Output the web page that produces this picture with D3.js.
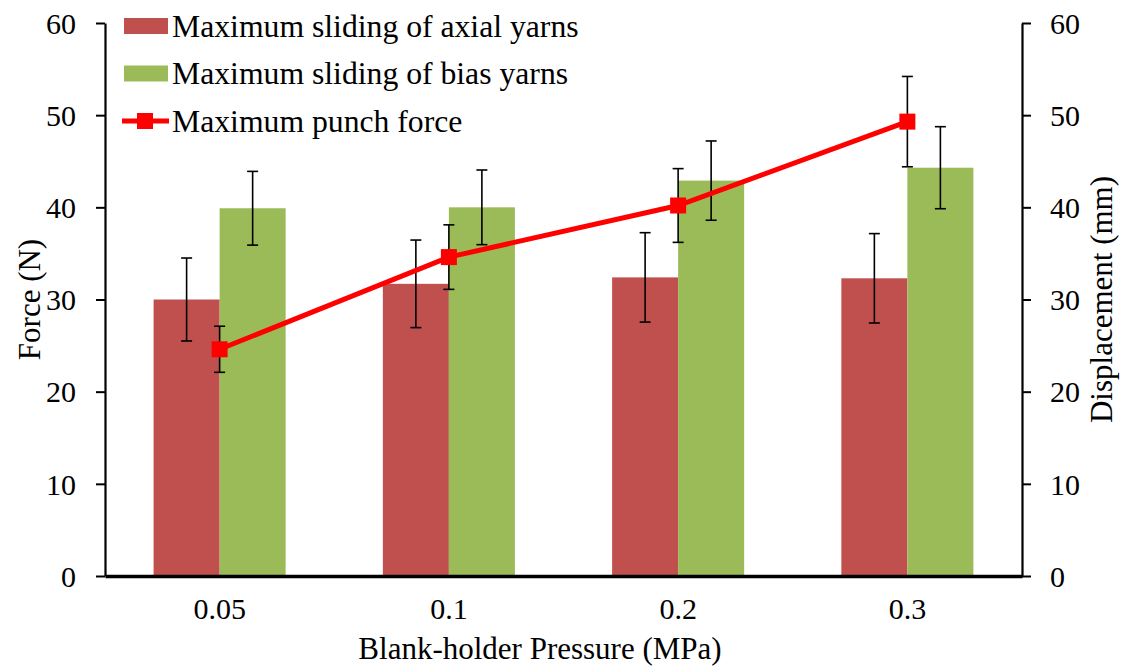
<!DOCTYPE html>
<html>
<head>
<meta charset="utf-8">
<script src="https://d3js.org/d3.v7.min.js"></script>
<style>
  body { margin: 0; background: #fff; }
  text { font-family: "Liberation Serif", "Times New Roman", serif; fill: #000; }
</style>
</head>
<body>
<script>
var categories = ["0.05", "0.1", "0.2", "0.3"];
var axialSliding = [30.0, 31.7, 32.4, 32.3];
var axialErr = [4.5, 4.75, 4.85, 4.85];
var biasSliding = [39.9, 40.0, 42.9, 44.3];
var biasErr = [4.0, 4.05, 4.3, 4.45];
var punchForce = [24.6, 34.6, 40.2, 49.3];
var punchErr = [2.5, 3.5, 4.0, 4.9];
var yTicks = [0, 10, 20, 30, 40, 50, 60];

var width = 1122, height = 666;
var margin = { left: 105, right: 100, top: 23, bottom: 90 };

var svg = d3.select("body").append("svg")
    .attr("width", width)
    .attr("height", height);

var x0 = d3.scaleBand()
    .domain(categories)
    .range([margin.left, width - margin.right])
    .paddingInner(0.424)
    .paddingOuter(0.212);

var x1 = d3.scaleBand()
    .domain(["axial", "bias"])
    .range([0, x0.bandwidth()]);

var y = d3.scaleLinear()
    .domain([0, 60])
    .range([height - margin.bottom, margin.top]);

var yRight = d3.scaleLinear()
    .domain([0, 60])
    .range([height - margin.bottom, margin.top]);

var series = [
    { key: "axial", values: axialSliding, err: axialErr, color: "#c0504d" },
    { key: "bias", values: biasSliding, err: biasErr, color: "#9bbb59" }
];

// bars
series.forEach(function(s) {
    svg.append("g").selectAll("rect")
        .data(s.values)
        .enter().append("rect")
        .attr("x", function(d, i) { return x0(categories[i]) + x1(s.key); })
        .attr("y", function(d) { return y(d); })
        .attr("width", x1.bandwidth())
        .attr("height", function(d) { return y(0) - y(d); })
        .attr("fill", s.color);
});

function errorBars(cx, vals, errs, scale) {
    var g = svg.append("g").attr("stroke", "#000").attr("stroke-width", 1.6);
    vals.forEach(function(v, i) {
        var xc = cx(i), top = scale(v + errs[i]), bot = scale(v - errs[i]);
        g.append("line").attr("x1", xc).attr("x2", xc).attr("y1", top).attr("y2", bot);
        g.append("line").attr("x1", xc - 5.5).attr("x2", xc + 5.5).attr("y1", top).attr("y2", top);
        g.append("line").attr("x1", xc - 5.5).attr("x2", xc + 5.5).attr("y1", bot).attr("y2", bot);
    });
}

series.forEach(function(s) {
    errorBars(function(i) { return x0(categories[i]) + x1(s.key) + x1.bandwidth() / 2; },
        s.values, s.err, y);
});

// punch force line
var lineX = function(i) { return x0(categories[i]) + x0.bandwidth() / 2; };
var line = d3.line()
    .x(function(d, i) { return lineX(i); })
    .y(function(d) { return yRight(d); });

svg.append("path")
    .datum(punchForce)
    .attr("d", line)
    .attr("fill", "none")
    .attr("stroke", "#ff0000")
    .attr("stroke-width", 5);

errorBars(lineX, punchForce, punchErr, yRight);

svg.append("g").selectAll("rect")
    .data(punchForce)
    .enter().append("rect")
    .attr("x", function(d, i) { return lineX(i) - 8; })
    .attr("y", function(d) { return yRight(d) - 8; })
    .attr("width", 16)
    .attr("height", 16)
    .attr("fill", "#ff0000");

// axes
var leftAxis = svg.append("g")
    .attr("transform", "translate(" + margin.left + ",0)")
    .call(d3.axisLeft(y).tickValues(yTicks).tickSize(9).tickPadding(20).tickSizeOuter(0));

var rightAxis = svg.append("g")
    .attr("transform", "translate(" + (width - margin.right) + ",0)")
    .call(d3.axisRight(yRight).tickValues(yTicks).tickSize(9).tickPadding(19).tickSizeOuter(0));

[leftAxis, rightAxis].forEach(function(a) {
    a.select(".domain").attr("stroke", "#000").attr("stroke-width", 2.2);
    a.selectAll(".tick line").attr("stroke", "#000").attr("stroke-width", 2);
    a.selectAll(".tick text")
        .style("font-family", "'Liberation Serif', serif")
        .style("font-size", "30px")
        .attr("dy", "0.34em");
});

var bottomAxis = svg.append("g")
    .attr("transform", "translate(0," + y(0) + ")")
    .call(d3.axisBottom(x0).tickSize(0).tickPadding(22));
bottomAxis.select(".domain").attr("stroke", "#000").attr("stroke-width", 3.5);
bottomAxis.selectAll(".tick text")
    .style("font-family", "'Liberation Serif', serif")
    .style("font-size", "30px");

// axis titles
svg.append("text")
    .attr("transform", "translate(40," + ((y(0) + y(60)) / 2) + ") rotate(-90)")
    .attr("text-anchor", "middle")
    .style("font-size", "31px")
    .text("Force (N)");

svg.append("text")
    .attr("transform", "translate(1112," + ((y(0) + y(60)) / 2) + ") rotate(-90)")
    .attr("text-anchor", "middle")
    .style("font-size", "31px")
    .text("Displacement (mm)");

svg.append("text")
    .attr("x", 540)
    .attr("y", 659)
    .attr("text-anchor", "middle")
    .style("font-size", "31px")
    .text("Blank-holder Pressure (MPa)");

// legend
var legendItems = [
    { label: "Maximum sliding of axial yarns", color: "#c0504d", type: "bar" },
    { label: "Maximum sliding of bias yarns", color: "#9bbb59", type: "bar" },
    { label: "Maximum punch force", color: "#ff0000", type: "line" }
];

var legend = svg.append("g");
legendItems.forEach(function(d, i) {
    var cy = 26 + i * 47.5;
    if (d.type === "bar") {
        legend.append("rect").attr("x", 124).attr("y", cy - 8).attr("width", 44).attr("height", 16).attr("fill", d.color);
    } else {
        legend.append("line").attr("x1", 122).attr("x2", 169).attr("y1", cy).attr("y2", cy)
            .attr("stroke", d.color).attr("stroke-width", 5);
        legend.append("rect").attr("x", 137).attr("y", cy - 8).attr("width", 16).attr("height", 16).attr("fill", d.color);
    }
    legend.append("text")
        .attr("x", 172)
        .attr("y", cy)
        .attr("dy", "0.34em")
        .style("font-size", "31.7px")
        .text(d.label);
});
</script>
</body>
</html>
